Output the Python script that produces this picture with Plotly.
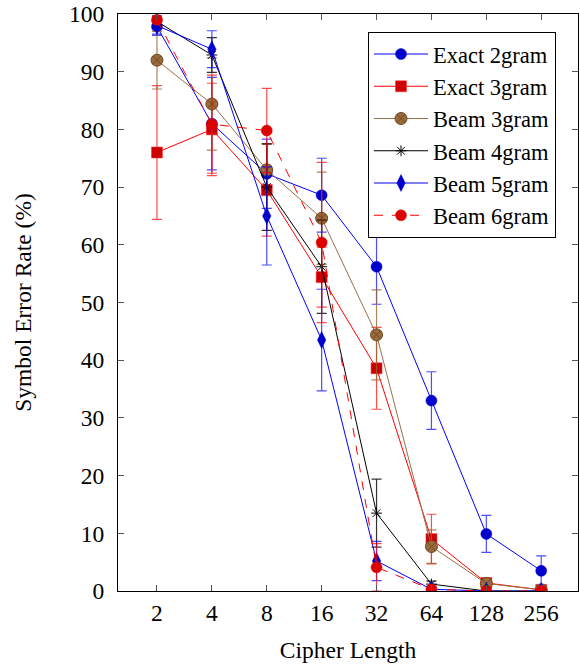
import plotly.graph_objects as go
import math

lengths = [2, 4, 8, 16, 32, 64, 128, 256]
tick_labels = ["2", "4", "8", "16", "32", "64", "128", "256"]

exact2 = [97.8, 81.0, 72.3, 68.6, 56.2, 33.0, 9.9, 3.5]
exact2_err = [1.5, 8.0, 6.0, 6.4, 6.5, 5.0, 3.2, 2.6]
exact3 = [76.0, 80.0, 69.5, 54.4, 38.6, 9.0, 1.4, 0.2]
exact3_err = [11.6, 8.0, 8.0, 5.2, 7.1, 4.3, 0.5, 0.3]
beam3 = [92.0, 84.4, 73.0, 64.6, 44.4, 7.7, 1.3, 0.2]
beam3_err = [5.0, 8.0, 4.5, 8.0, 7.8, 2.9, 0.5, 0.2]
beam4 = [98.7, 92.9, 70.0, 56.2, 13.5, 1.2, 0.0, 0.0]
beam4_err = [1.0, 3.0, 7.5, 8.1, 5.9, 0.5, 0.0, 0.0]
beam5 = [98.0, 93.9, 65.0, 43.5, 5.2, 0.3, 0.0, 0.0]
beam5_err = [1.5, 3.2, 8.5, 8.8, 3.4, 0.5, 0.0, 0.0]
beam6 = [99.0, 80.9, 79.8, 60.4, 4.1, 0.3, 0.0, 0.0]
beam6_err = [0.5, 8.5, 7.3, 13.9, 4.1, 0.3, 0.0, 0.0]

series = [
    ("Exact 2gram", exact2, exact2_err, "#0000ff", "solid",
     dict(symbol="circle", size=11, color="#0000cc", line=dict(width=0.5, color="#0000cc")),
     "rgba(0,0,255,0.7)"),
    ("Exact 3gram", exact3, exact3_err, "#ff0000", "solid",
     dict(symbol="square", size=11, color="#cc0000", line=dict(width=0.5, color="#ff3333")),
     "rgba(255,0,0,0.7)"),
    ("Beam 3gram", beam3, beam3_err, "#99704a", "solid",
     dict(symbol="circle-x", size=12, color="#9a6a3a", line=dict(width=1, color="#6e4a26")),
     "rgba(153,102,51,0.8)"),
    ("Beam 4gram", beam4, beam4_err, "#000000", "solid",
     dict(symbol="asterisk-open", size=9, color="#000000", line=dict(width=1, color="#000000")),
     "rgba(0,0,0,0.8)"),
    ("Beam 5gram", beam5, beam5_err, "#0000ff", "solid",
     dict(symbol="diamond-tall", size=12, color="#0000cc", line=dict(width=0.5, color="#0000cc")),
     "rgba(0,0,255,0.7)"),
    ("Beam 6gram", beam6, beam6_err, "#ff0000", "dash",
     dict(symbol="circle", size=11, color="#dd0000", line=dict(width=0.5, color="#dd0000")),
     "rgba(255,0,0,0.7)"),
]

fig = go.Figure()
for name, vals, errs, lc, dash, marker, ec in series:
    fig.add_trace(go.Scatter(
        x=lengths, y=vals, name=name, mode="lines+markers",
        line=dict(color=lc, width=1, dash=dash),
        marker=marker,
        error_y=dict(type="data", array=errs, visible=True, color=ec, thickness=1.2, width=5),
    ))

font_family = "Liberation Serif"
fs = 23.5
fig.update_layout(
    width=580, height=664,
    margin=dict(l=118, r=2, t=14, b=73, autoexpand=False),
    paper_bgcolor="white", plot_bgcolor="white",
    font=dict(family=font_family, size=fs, color="black"),
    showlegend=True,
    legend=dict(
        x=0.5435, y=0.969, xanchor="left", yanchor="top",
        bgcolor="white", bordercolor="black", borderwidth=1,
        font=dict(family=font_family, size=22.5, color="black"),
        itemwidth=54, tracegroupgap=0,
    ),
    xaxis=dict(
        type="log", automargin=False,
        range=[math.log10(2 ** 0.29), math.log10(2 ** 8.67)],
        tickvals=lengths, ticktext=tick_labels,
        ticks="inside", ticklen=6, tickcolor="#555555",
        mirror="allticks", showline=True, linecolor="black", linewidth=1,
        showgrid=False, zeroline=False,
        ticklabelstandoff=1,
        title=dict(text="Cipher Length", font=dict(family=font_family, size=fs), standoff=16),
        tickfont=dict(family=font_family, size=fs),
    ),
    yaxis=dict(
        range=[0, 100], dtick=10, automargin=False,
        ticks="inside", ticklen=6, tickcolor="#555555",
        mirror="allticks", showline=True, linecolor="black", linewidth=1,
        showgrid=False, zeroline=False,
        ticklabelstandoff=8,
        title=dict(text="Symbol Error Rate (%)", font=dict(family=font_family, size=fs), standoff=30),
        tickfont=dict(family=font_family, size=fs),
    ),
)

fig.write_html("out.html", config={"displayModeBar": False},
               post_script="document.body.style.margin='0';document.body.style.overflow='hidden';")
